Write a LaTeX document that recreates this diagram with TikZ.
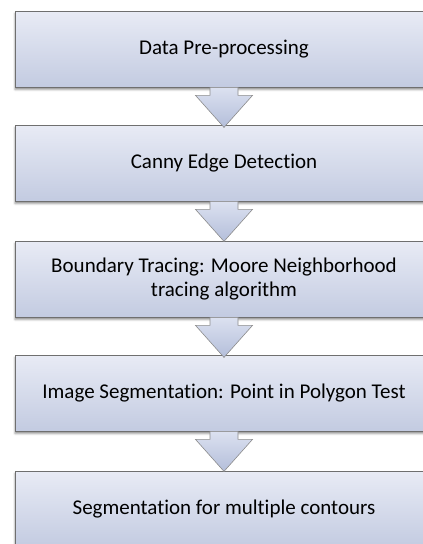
\documentclass[tikz,border=0pt]{standalone}
\usepackage{fontspec}
\setmainfont{Carlito}[Ligatures=NoCommon]
\usetikzlibrary{shadows.blur}
\definecolor{boxtop}{HTML}{E8EBF5}
\definecolor{boxbot}{HTML}{C3CBE1}
\definecolor{boxline}{HTML}{6F6F6F}
\definecolor{arrtop}{HTML}{DCE1F0}
\definecolor{arrbot}{HTML}{B4BEDA}
\definecolor{arrline}{HTML}{8C8C8C}
\begin{document}
\begin{tikzpicture}[x=1pt,y=-1pt,
  stage/.style={draw=boxline, line width=0.8pt, top color=boxtop, bottom color=boxbot,
    minimum width=418pt, minimum height=76pt, align=center, inner sep=0pt,
    font=\fontsize{21}{24.5}\selectfont,
    blur shadow={shadow xshift=0pt, shadow yshift=-2.5pt, shadow blur radius=2pt, shadow opacity=45}},
  flowarrow/.style={draw=arrline, line width=0.6pt, top color=arrtop, bottom color=arrbot, line join=miter}
]
\useasboundingbox (0,0) rectangle (423,544);
\clip (0,0) rectangle (423,544);

% process stages
\node[stage] (b1) at (224,49)  {Data Pre-processing};
\node[stage] (b2) at (224,163) {Canny Edge Detection};
\node[stage] (b3) at (224,279) {Boundary Tracing: Moore Neighborhood\\tracing algorithm};
\node[stage] (b4) at (224,393) {Image Segmentation: Point in Polygon Test};
\node[stage] (b5) at (224,509) {Segmentation for multiple contours};

% block arrows between consecutive stages
\foreach \a in {b1,b2,b3,b4}{
  \path[flowarrow] ([xshift=-14pt]\a.south) -- ++(0,8) -- ++(-14.5,0) -- ++(28.5,32)
    -- ++(28.5,-32) -- ++(-14.5,0) -- ++(0,-8) -- cycle;
}
\end{tikzpicture}
\end{document}
